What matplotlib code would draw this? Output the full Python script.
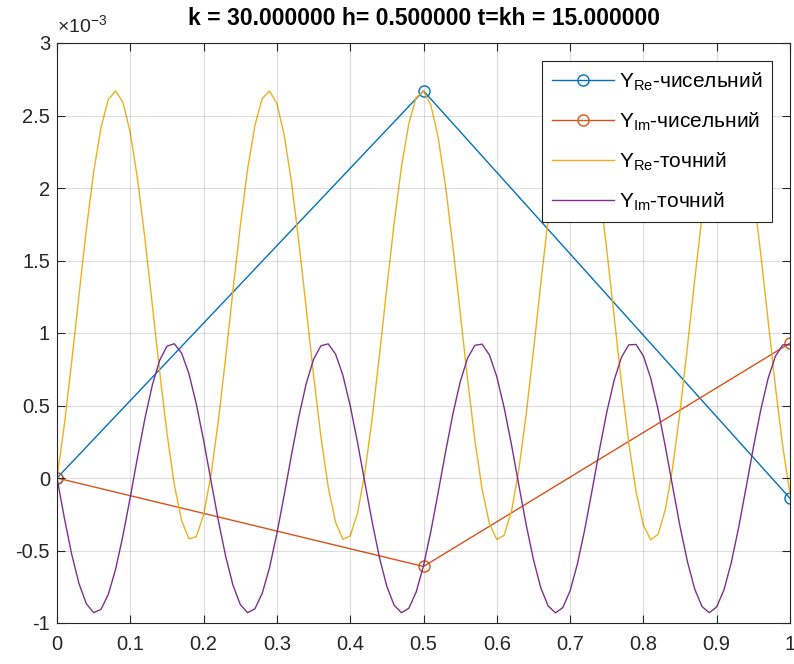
import matplotlib
matplotlib.use("Agg")
import matplotlib.pyplot as plt
import numpy as np

plt.rcParams['font.family'] = ['Liberation Sans', 'DejaVu Sans']
plt.rcParams['mathtext.fontset'] = 'custom'
plt.rcParams['mathtext.rm'] = 'Liberation Sans'
plt.rcParams['mathtext.it'] = 'Liberation Sans'

# Data (values in units of 1e-3)
x_num = [0.0, 0.5, 1.0]
yre_num = [0.0, 2.67, -0.14]
yim_num = [0.0, -0.61, 0.93]

x_exact = [i / 100 for i in range(101)]
yre_exact = [
    0.000, 0.366, 0.800, 1.262, 1.712, 2.109, 2.417, 2.610, 2.670, 2.591,
    2.381, 2.058, 1.650, 1.197, 0.736, 0.310, -0.045, -0.295, -0.419, -0.405,
    -0.255, 0.018, 0.389, 0.826, 1.288, 1.736, 2.129, 2.432, 2.617, 2.669,
    2.582, 2.365, 2.036, 1.626, 1.171, 0.711, 0.287, -0.062, -0.305, -0.422,
    -0.400, -0.243, 0.036, 0.412, 0.851, 1.315, 1.760, 2.149, 2.445, 2.624,
    2.668, 2.573, 2.349, 2.015, 1.601, 1.144, 0.685, 0.265, -0.079, -0.316,
    -0.424, -0.395, -0.230, 0.055, 0.436, 0.877, 1.341, 1.784, 2.168, 2.459,
    2.630, 2.666, 2.564, 2.333, 1.993, 1.576, 1.118, 0.660, 0.243, -0.095,
    -0.325, -0.426, -0.389, -0.217, 0.075, 0.459, 0.903, 1.367, 1.808, 2.187,
    2.472, 2.636, 2.664, 2.554, 2.316, 1.972, 1.550, 1.092, 0.635, 0.222,
    -0.112,
]
yim_exact = [
    0.000, -0.275, -0.525, -0.728, -0.867, -0.928, -0.906, -0.803, -0.628, -0.397,
    -0.131, 0.147, 0.412, 0.640, 0.811, 0.909, 0.926, 0.861, 0.719, 0.512,
    0.260, -0.016, -0.290, -0.538, -0.738, -0.872, -0.929, -0.902, -0.795, -0.617,
    -0.383, -0.116, 0.162, 0.425, 0.651, 0.818, 0.912, 0.925, 0.855, 0.709,
    0.499, 0.245, -0.031, -0.305, -0.551, -0.748, -0.878, -0.929, -0.898, -0.787,
    -0.605, -0.369, -0.100, 0.177, 0.439, 0.662, 0.825, 0.915, 0.923, 0.848,
    0.698, 0.486, 0.230, -0.047, -0.320, -0.563, -0.757, -0.882, -0.930, -0.894,
    -0.778, -0.592, -0.355, -0.085, 0.193, 0.453, 0.673, 0.832, 0.918, 0.921,
    0.842, 0.688, 0.472, 0.215, -0.062, -0.335, -0.575, -0.766, -0.887, -0.929,
    -0.889, -0.770, -0.581, -0.340, -0.068, 0.209, 0.467, 0.684, 0.839, 0.918,
    0.919,
]

labels = ['Y$_{\\mathrm{Re}}$-чисельний', 'Y$_{\\mathrm{Im}}$-чисельний',
          'Y$_{\\mathrm{Re}}$-точний', 'Y$_{\\mathrm{Im}}$-точний']
title = 'k = 30.000000 h= 0.500000 t=kh = 15.000000'
xticks = [0, 0.1, 0.2, 0.3, 0.4, 0.5, 0.6, 0.7, 0.8, 0.9, 1]
yticks = [-1, -0.5, 0, 0.5, 1, 1.5, 2, 2.5, 3]

c_blue = (0.0, 0.447, 0.741)
c_orange = (0.85, 0.325, 0.098)
c_yellow = (0.929, 0.694, 0.125)
c_purple = (0.494, 0.184, 0.556)
axc = (0.15, 0.15, 0.15)

fig = plt.figure(figsize=(7.94, 6.64), dpi=100)
ax = fig.add_axes([57 / 794, 41 / 664, 733 / 794, 580 / 664])

ax.plot(x_num, yre_num, '-o', color=c_blue, mfc='none', ms=8, lw=1.0, label=labels[0])
ax.plot(x_num, yim_num, '-o', color=c_orange, mfc='none', ms=8, lw=1.0, label=labels[1])
ax.plot(x_exact, yre_exact, '-', color=c_yellow, lw=1.0, label=labels[2])
ax.plot(x_exact, yim_exact, '-', color=c_purple, lw=1.0, label=labels[3])

ax.set_xlim(0, 1)
ax.set_ylim(-1, 3)
ax.set_xticks(xticks)
ax.set_xticklabels([('%g' % t) for t in xticks])
ax.set_yticks(yticks)
ax.set_yticklabels([('%g' % t) for t in yticks])
ax.tick_params(direction='in', length=6, width=0.8, colors=axc, labelsize=14.5,
               top=True, right=True, labelcolor=axc)
ax.tick_params(axis='x', pad=9)
ax.tick_params(axis='y', pad=5)
for s in ax.spines.values():
    s.set_color(axc)
    s.set_linewidth(0.8)
ax.grid(True, color=(0.15, 0.15, 0.15), alpha=0.15, lw=0.8)
ax.set_axisbelow(False)

ax.set_title(title, fontsize=16.5, fontweight='bold', color='black', pad=13)
ax.text(0.0, 1.012, '$\\times$10$^{-3}$', transform=ax.transAxes, ha='left', va='bottom',
        fontsize=14, color=axc)

leg = ax.legend(loc='upper right', bbox_to_anchor=(0.9755, 0.969), fontsize=15,
                frameon=True, fancybox=False, edgecolor=axc, framealpha=1,
                handlelength=3.0, borderpad=0.45, labelspacing=0.85, handletextpad=0.25,
                borderaxespad=0.0)
leg.get_frame().set_linewidth(0.8)

fig.savefig('out.png', dpi=100)
